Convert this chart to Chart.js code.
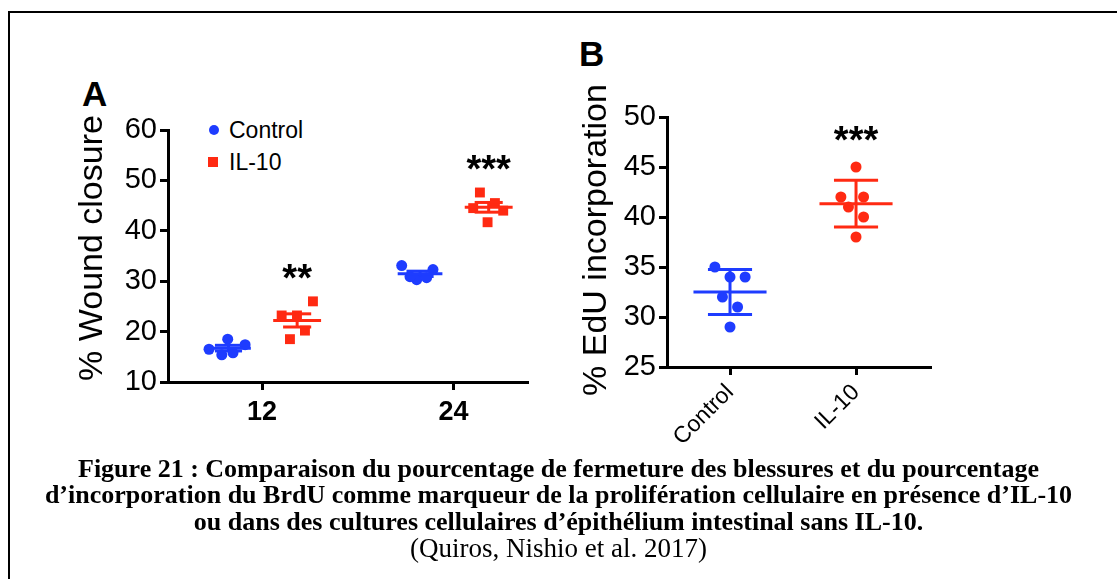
<!DOCTYPE html>
<html>
<head>
<meta charset="utf-8">
<script src="https://cdn.jsdelivr.net/npm/chart.js@4.4.1/dist/chart.umd.min.js"></script>
<style>
  html, body { margin: 0; padding: 0; background: #fff; width: 1117px; height: 579px; overflow: hidden; }
  body { position: relative; font-family: "Liberation Sans", Arial, sans-serif; }
  .frame { position: absolute; left: 8px; top: 11px; width: 1200px; height: 700px; border: 2px solid #000; box-sizing: border-box; }
  canvas { position: absolute; }
  .panel { position: absolute; font-weight: bold; font-size: 35px; line-height: 35px; }
  .leg { position: absolute; font-size: 23px; line-height: 26px; color: #000; }
  .mk { position: absolute; }
  .caption { position: absolute; left: 0; top: 456px; width: 1117px; text-align: center;
             font-family: "Liberation Serif", "Times New Roman", serif; font-size: 26px; line-height: 26.3px; color: #000; }
  .caption b { display: block; }
  .caption .src { display: block; font-size: 27px; }
</style>
</head>
<body>
<div class="frame"></div>

<div class="panel" style="left:82px; top:76px;">A</div>
<div class="panel" style="left:579px; top:36px;">B</div>

<div class="mk" style="left:209px; top:125px; width:10px; height:10px; border-radius:50%; background:#1e3cff;"></div>
<div class="leg" style="left:229px; top:117px;">Control</div>
<div class="mk" style="left:208px; top:157px; width:10px; height:10px; background:#ff2a12;"></div>
<div class="leg" style="left:229px; top:149px;">IL-10</div>

<canvas id="chartA" width="560" height="400" style="left:0px; top:60px;"></canvas>
<canvas id="chartB" width="557" height="440" style="left:560px; top:20px;"></canvas>

<div class="caption">
  <b>Figure 21 : Comparaison du pourcentage de fermeture des blessures et du pourcentage</b>
  <b>d’incorporation du BrdU comme marqueur de la prolifération cellulaire en présence d’IL-10</b>
  <b>ou dans des cultures cellulaires d’épithélium intestinal sans IL-10.</b>
  <span class="src">(Quiros, Nishio et al. 2017)</span>
</div>

<script>
// couleurs GraphPad
const BLUE = '#1e3cff';
const RED = '#ff2a12';

// Panel A : % wound closure, temps 12 h et 24 h
const timesA = [12, 24];
const yTicksA = [10, 20, 30, 40, 50, 60];
const controlA = [[16.5, 15.4, 18.5, 15.8, 17.4], [33.1, 32.3, 30.3, 30.9, 30.7]];
const controlAX = [[8.68, 9.48, 9.85, 10.18, 10.94], [20.75, 22.71, 21.69, 21.27, 22.31]];
const il10A = [[23.2, 23.2, 18.5, 20.2, 26.0], [47.6, 45.5, 44.0, 41.7, 44.5]];
const il10AX = [[13.23, 14.19, 13.75, 14.69, 15.19], [25.65, 26.59, 27.11, 26.13, 25.23]];
const sigA = ['**', '***'];

// Panel B : % EdU incorporation
const groupsB = ['Control', 'IL-10'];
const yTicksB = [25, 30, 35, 40, 45, 50];
const controlB = [35, 34, 34, 32, 31, 29];
const controlBX = [-0.12, 0.0, 0.12, -0.06, 0.06, 0.0];
const il10B = [45, 42, 42, 41, 40, 38];
const il10BX = [1.0, 0.88, 1.06, 0.94, 1.06, 1.0];
const sigB = ['', '***'];

Chart.defaults.font.family = '"Liberation Sans", Arial, sans-serif';
Chart.defaults.color = '#000';

const mean = a => a.reduce((s, v) => s + v, 0) / a.length;
const sd = a => { const m = mean(a); return Math.sqrt(a.reduce((s, v) => s + (v - m) ** 2, 0) / (a.length - 1)); };

// moyenne + barres d'erreur (SEM ou SD) en segments
function errorBars(cx, vals, halfMean, halfCap, kind, color) {
  const m = mean(vals);
  const e = kind === 'sd' ? sd(vals) : sd(vals) / Math.sqrt(vals.length);
  const seg = (x1, y1, x2, y2) => ({
    data: [{ x: x1, y: y1 }, { x: x2, y: y2 }],
    showLine: true, borderColor: color, borderWidth: 3,
    pointRadius: 0, pointHoverRadius: 0
  });
  return [
    seg(cx - halfMean, m, cx + halfMean, m),
    seg(cx, m - e, cx, m + e),
    seg(cx - halfCap, m + e, cx + halfCap, m + e),
    seg(cx - halfCap, m - e, cx + halfCap, m - e)
  ];
}

function points(xs, ys, color, style, radius) {
  return {
    data: ys.map((v, i) => ({ x: xs[i], y: v })),
    backgroundColor: color, borderColor: color, borderWidth: 0,
    pointStyle: style, pointRadius: radius, pointHoverRadius: radius
  };
}

// étoiles de significativité au-dessus du groupe
const starPlugin = {
  id: 'stars',
  afterDatasetsDraw(chart, args, opts) {
    const { ctx, scales: { x, y } } = chart;
    ctx.save();
    ctx.font = 'bold 38px "Liberation Sans", Arial, sans-serif';
    ctx.textAlign = 'center';
    ctx.textBaseline = 'alphabetic';
    ctx.fillStyle = '#000';
    opts.items.forEach(it => {
      if (!it.text) return;
      const px = x.getPixelForValue(it.x);
      const py = y.getPixelForValue(it.top) - opts.gap + 0.55 * 38;
      ctx.fillText(it.text, px, py);
    });
    ctx.restore();
  }
};

// titre de l'axe Y (centré un peu plus haut que chez Chart.js)
const yTitlePlugin = {
  id: 'yTitle',
  afterDraw(chart, args, opts) {
    const { ctx, chartArea } = chart;
    ctx.save();
    ctx.translate(opts.x, (chartArea.top + chartArea.bottom) / 2 + opts.dy);
    ctx.rotate(-Math.PI / 2);
    ctx.font = '34px "Liberation Sans", Arial, sans-serif';
    ctx.textAlign = 'center';
    ctx.textBaseline = 'middle';
    ctx.fillStyle = '#000';
    ctx.fillText(opts.text, 0, 0);
    ctx.restore();
  }
};

function axisStyle(extra) {
  return Object.assign({
    grid: { drawOnChartArea: false, color: '#000', lineWidth: 3, tickLength: 8, tickWidth: 3 },
    border: { color: '#000', width: 3 }
  }, extra);
}

// ---- Panel A ----
const dsA = [];
timesA.forEach((t, i) => {
  dsA.push(...errorBars(t - 2.1, controlA[i], 1.4, 0.85, 'sem', BLUE));
  dsA.push(...errorBars(t + 2.2, il10A[i], 1.5, 0.88, 'sem', RED));
  dsA.push(points(controlAX[i], controlA[i], BLUE, 'circle', 5.5));
  dsA.push(points(il10AX[i], il10A[i], RED, 'rect', 7));
});

new Chart(document.getElementById('chartA'), {
  type: 'scatter',
  data: { datasets: dsA },
  plugins: [starPlugin, yTitlePlugin],
  options: {
    responsive: false,
    animation: false,
    layout: { padding: { top: 70, right: 33, left: 0, bottom: 28 } },
    plugins: {
      legend: { display: false },
      tooltip: { enabled: false },
      stars: { gap: 31, items: timesA.map((t, i) => ({ text: sigA[i], x: t + 2.2, top: Math.max(...il10A[i]) })) },
      yTitle: { text: '% Wound closure', x: 93, dy: -8 }
    },
    scales: {
      x: axisStyle({
        type: 'linear', min: 6.11, max: 28.6,
        afterBuildTicks: s => { s.ticks = timesA.map(v => ({ value: v })); },
        afterFit: s => { s.height = 50; },
        ticks: { font: { size: 27, weight: 'bold' }, color: '#000', padding: 6 }
      }),
      y: axisStyle({
        min: 10, max: 60,
        afterBuildTicks: s => { s.ticks = yTicksA.map(v => ({ value: v })); },
        afterFit: s => { s.width = 168; },
        ticks: { font: { size: 29 }, color: '#000', padding: 3 }
      })
    }
  }
});

// ---- Panel B ----
const dsB = [
  ...errorBars(0, controlB, 0.29, 0.175, 'sd', BLUE),
  ...errorBars(1, il10B, 0.29, 0.175, 'sd', RED),
  points(controlBX, controlB, BLUE, 'circle', 5.5),
  points(il10BX, il10B, RED, 'circle', 5.5)
];

new Chart(document.getElementById('chartB'), {
  type: 'scatter',
  data: { datasets: dsB },
  plugins: [starPlugin, yTitlePlugin],
  options: {
    responsive: false,
    animation: false,
    layout: { padding: { top: 97, right: 187, left: 0, bottom: 13 } },
    plugins: {
      legend: { display: false },
      tooltip: { enabled: false },
      stars: { gap: 35, items: [
        { text: sigB[0], x: 0, top: Math.max(...controlB) },
        { text: sigB[1], x: 1, top: Math.max(...il10B) }
      ] },
      yTitle: { text: '% EdU incorporation', x: 37, dy: -2 }
    },
    scales: {
      x: axisStyle({
        type: 'linear', min: -0.5, max: 1.587,
        afterBuildTicks: s => { s.ticks = groupsB.map((g, i) => ({ value: i })); },
        afterFit: s => { s.height = 80; },
        ticks: { font: { size: 23 }, color: '#000', padding: 4, minRotation: 45, maxRotation: 45,
                 callback: v => groupsB[v] }
      }),
      y: axisStyle({
        min: 25, max: 50,
        afterBuildTicks: s => { s.ticks = yTicksB.map(v => ({ value: v })); },
        afterFit: s => { s.width = 107; },
        ticks: { font: { size: 29 }, color: '#000', padding: 3 }
      })
    }
  }
});
</script>
</body>
</html>
